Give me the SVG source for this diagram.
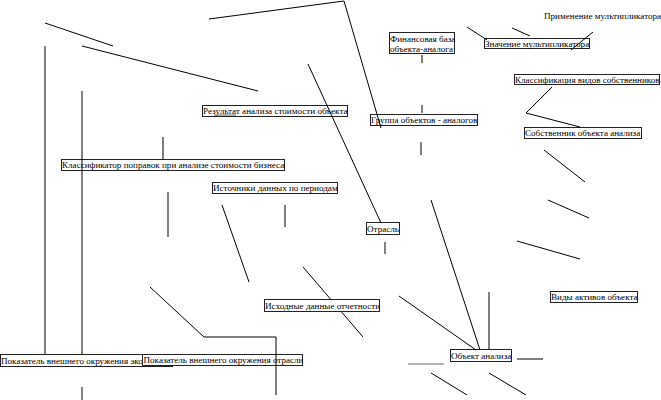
<svg xmlns="http://www.w3.org/2000/svg" width="661" height="400" viewBox="0 0 661 400">
<style>
.b{fill:#fff;stroke:#222;stroke-width:1}
.t{font-family:"Liberation Serif",serif;font-size:9.1px;fill:#000}
.c line,.c polyline{stroke:#000;stroke-width:1;fill:none}
</style>
<rect width="661" height="400" fill="#fff"/>
<g class="c" id="connectors-under">
<line x1="303" y1="267" x2="363" y2="337"/>
</g>
<g id="n-fin"><rect class="b" x="389.5" y="32.5" width="65" height="21"/><text class="t" x="390" y="41.5">Финансовая база</text><text class="t" x="390" y="51.5">объекта-аналога</text></g>
<g id="n-primenenie"><text class="t" x="544" y="18.5">Применение мультипликатора</text></g>
<g id="n-znachenie"><rect class="b" x="484.5" y="38.5" width="105" height="10"/><text class="t" x="485" y="46.5">Значение мультипликатора</text></g>
<g id="n-klass-sobst"><rect class="b" x="514.5" y="74.5" width="145" height="10"/><text class="t" x="515" y="82.5">Классификация видов собственников</text></g>
<g id="n-gruppa"><rect class="b" x="370.5" y="114.5" width="107" height="11"/><text class="t" x="371" y="123">Группа объектов - аналогов</text></g>
<g id="n-sobstvennik"><rect class="b" x="524.5" y="127.5" width="117" height="11"/><text class="t" x="525" y="136">Собственник объекта анализа</text></g>
<g id="n-rezultat"><rect class="b" x="202.5" y="105.5" width="145" height="11"/><text class="t" x="203" y="114">Результат анализа стоимости объекта</text><line x1="214" y1="115" x2="236" y2="115" stroke="#666"/></g>
<g id="n-klassifikator"><rect class="b" x="61.5" y="159.5" width="223" height="11"/><text class="t" x="62" y="168">Классификатор поправок при анализе стоимости бизнеса</text></g>
<g id="n-istochniki"><rect class="b" x="212.5" y="182.5" width="125" height="11"/><text class="t" x="213" y="191">Источники данных по периодам</text></g>
<g id="n-otrasl"><rect class="b" x="366.5" y="222.5" width="33" height="12"/><text class="t" x="367" y="231.5">Отрасль</text></g>
<g id="n-ishodnye"><rect class="b" x="264.5" y="299.5" width="115" height="12"/><text class="t" x="265" y="308.5">Исходные данные отчетности</text></g>
<g id="n-pok-eko"><rect class="b" x="0.5" y="354.5" width="172" height="12"/><text class="t" x="1" y="363.5">Показатель внешнего окружения эко</text></g>
<g id="n-pok-otr"><rect class="b" x="142.5" y="354.5" width="160" height="11"/><text class="t" x="143.5" y="363">Показатель внешнего окружения отрасли</text></g>
<g id="n-vidy"><rect class="b" x="550.5" y="291.5" width="87" height="11"/><text class="t" x="551" y="300">Виды активов объекта</text></g>
<g id="n-obekt"><rect class="b" x="450.5" y="349.5" width="61" height="12"/><text class="t" x="451" y="358.5">Объект анализа</text></g>
<g class="c" id="connectors">
<polyline points="209,19 344,1 381,128"/>
<line x1="308" y1="64" x2="381" y2="223"/>
<line x1="45" y1="23" x2="113" y2="46"/>
<line x1="82" y1="46" x2="258" y2="91"/>
<line x1="45" y1="46" x2="45" y2="354"/>
<line x1="82" y1="91" x2="82" y2="354"/>
<line x1="82" y1="387" x2="82" y2="400"/>
<line x1="467" y1="27" x2="487" y2="40"/>
<line x1="512" y1="28" x2="530" y2="36"/>
<line x1="593" y1="32" x2="571" y2="50"/>
<line x1="422" y1="55" x2="422" y2="63"/>
<line x1="422" y1="105" x2="422" y2="113"/>
<line x1="421" y1="142" x2="421" y2="155"/>
<polyline points="552,87 526,113 580,127"/>
<line x1="544" y1="150" x2="585" y2="182"/>
<line x1="548" y1="200" x2="589" y2="218"/>
<line x1="517" y1="241" x2="580" y2="259"/>
<line x1="431" y1="200" x2="480" y2="350"/>
<line x1="385" y1="242" x2="385" y2="254"/>
<line x1="163" y1="137" x2="163" y2="159"/>
<line x1="168" y1="192" x2="168" y2="237"/>
<line x1="285" y1="205" x2="285" y2="227"/>
<line x1="222" y1="205" x2="249" y2="282"/>
<polyline points="150,287 204,337 276,337 276,395"/>
<line x1="399" y1="296" x2="476" y2="350"/>
<line x1="489" y1="292" x2="489" y2="350"/>
<line x1="517" y1="359" x2="543" y2="359"/>
<line x1="408" y1="364" x2="444" y2="364" style="stroke:#666"/>
<line x1="431" y1="373" x2="467" y2="395"/>
<line x1="489" y1="373" x2="526" y2="395"/>
</g>
</svg>
